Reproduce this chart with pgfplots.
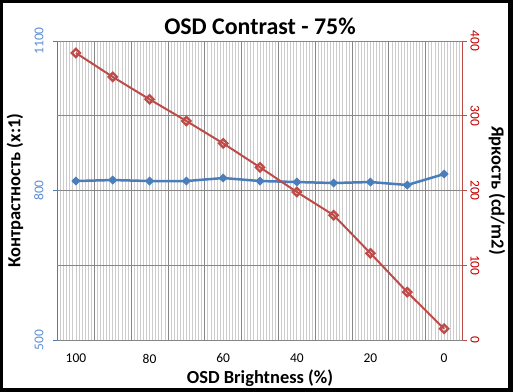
\documentclass[border=0pt]{standalone}
\usepackage{fontspec}
\setmainfont{Carlito}
\usepackage{pgfplots}
\pgfplotsset{compat=1.18}
\definecolor{cblue}{HTML}{4A7EBB}
\definecolor{cbluetxt}{HTML}{5B8ED6}
\definecolor{cred}{HTML}{BE4B48}
\definecolor{credtxt}{HTML}{C00000}
\definecolor{gmaj}{HTML}{868686}
\definecolor{gmin}{HTML}{CCCCCC}
\pgfplotsset{
  common/.style={
    scale only axis, width=405bp, height=299bp,
    xmin=-0.5, xmax=10.5,
    tick align=outside,
    major tick length=4.5bp,
    /pgf/number format/assume math mode=true,
    /pgf/number format/set thousands separator={},
    tick label style={font=\fontsize{13.5}{15}\selectfont},
    label style={font=\bfseries\fontsize{18.5}{22}\selectfont},
  }
}
\begin{document}
\begin{tikzpicture}
\path[use as bounding box] (-57.5bp,-52bp) rectangle (455.5bp,340bp);
\begin{axis}[common,
  axis y line*=left,
  axis x line*=bottom,
  x axis line style={gmaj, line width=0.8bp},
  y axis line style={cblue, line width=0.8bp},
  ymin=500, ymax=1100,
  ytick={500,800,1100},
  ytick style={cblue, line width=0.8bp},
  yticklabel style={rotate=90, anchor=south, color=cbluetxt, yshift=6bp},
  xtick={0,2,...,10},
  xticklabels={100,80,60,40,20,0},
  x tick style={draw=none},
  xticklabel style={anchor=center, yshift=-14bp},
  minor xtick={-0.5,-0.4166667,...,10.5},
  xminorgrids=true,
  minor grid style={gmin, line width=0.75bp},
  extra x ticks={0.5,1.5,...,9.5},
  extra x tick labels={},
  extra x tick style={grid=major, major grid style={gmaj, line width=0.8bp}},
  xlabel={OSD Brightness (\%)},
  xlabel style={at={(rel axis cs:0.5,0)}, anchor=center, yshift=-38bp},
  ylabel={Контрастность (x:1)},
  ylabel style={at={(rel axis cs:0,0.5)}, anchor=center, yshift=42.5bp},
  title={OSD Contrast - 75\%},
  title style={at={(rel axis cs:0.5,1)}, anchor=center, yshift=9bp, font=\bfseries\fontsize{24}{28}\selectfont},
]
\addplot[cblue, line width=2.5bp, mark=square*, mark size=2.7bp, mark options={rotate=45, line width=1bp}] coordinates {
(0,819) (1,821) (2,819) (3,819) (4,825) (5,819) (6,817) (7,815) (8,817) (9,811) (10,833)};
\end{axis}
\begin{axis}[common,
  axis y line*=right,
  axis x line=none,
  y axis line style={cred, line width=0.8bp},
  ymin=0, ymax=400,
  ytick={0,100,...,400},
  ytick style={cred, line width=0.8bp},
  ymajorgrids=true,
  major grid style={gmaj, line width=0.8bp},
  yticklabel style={rotate=-90, anchor=south, color=credtxt},
  ylabel={Яркость (cd/m2)},
  ylabel style={at={(rel axis cs:1,0.5)}, rotate=180, anchor=center, yshift=34.5bp},
]
\addplot[cred, line width=2bp, mark=square, mark size=2.9bp, mark options={rotate=45, fill=white, line width=2.3bp}] coordinates {
(0,384) (1,352) (2,322) (3,293) (4,263) (5,231) (6,198) (7,167) (8,116) (9,64) (10,15)};
\end{axis}
\fill[black, even odd rule] (-57.5bp,-52bp) rectangle (455.5bp,340bp) (-54.5bp,-48bp) rectangle (450.5bp,337bp);
\end{tikzpicture}
\end{document}
